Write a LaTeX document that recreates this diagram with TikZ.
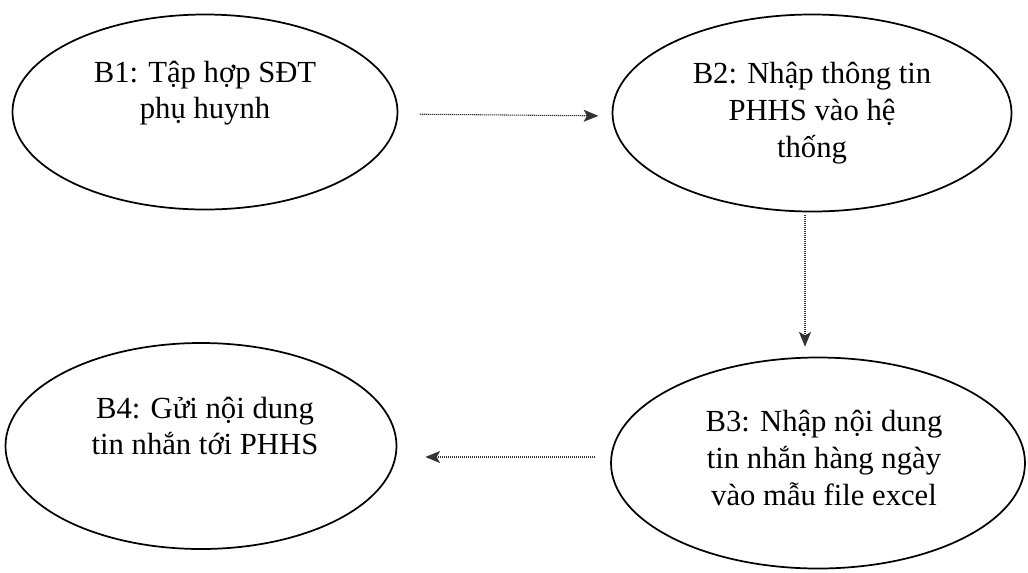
\documentclass[tikz,border=0pt]{standalone}
\usepackage{fontspec}
\setmainfont{Liberation Serif}
\usepackage{tikz}
\usetikzlibrary{shapes,arrows.meta,positioning}

\tikzset{
  stepoval/.style={draw, ellipse, line width=1.3pt, inner sep=0pt},
  steptext/.style={align=center, inner sep=0.75pt, font=\fontsize{23}{27.5}\selectfont},
  flowarrow/.style={draw=black!80, line width=0.8pt, dash pattern={on 0.9pt off 0.6pt},
    -{Stealth[length=11pt,width=9pt,inset=2.5pt]}}
}

\begin{document}
\begin{tikzpicture}[x=0.75pt,y=0.75pt,yscale=-1,xscale=1]
\useasboundingbox (0,0) rectangle (1028,572);

%Shape: Ellipse [id:b1]
\node [stepoval, minimum width=385*0.75pt, minimum height=195*0.75pt] (b1) at (205,112) {};
%Shape: Ellipse [id:b2]
\node [stepoval, minimum width=399*0.75pt, minimum height=197*0.75pt] (b2) at (812,113) {};
%Shape: Ellipse [id:b3]
\node [stepoval, minimum width=414*0.75pt, minimum height=211*0.75pt] (b3) at (818,463) {};
%Shape: Ellipse [id:b4]
\node [stepoval, minimum width=391*0.75pt, minimum height=206*0.75pt] (b4) at (201,446) {};

% Text Node
\node [steptext] (t1) at (205,93) {B1: Tập hợp SĐT\\phụ huynh};
% Text Node
\node [steptext] (t2) at (812,113) {B2: Nhập thông tin\\PHHS vào hệ\\thống};
% Text Node
\node [steptext] (t3) at (824,458) {B3: Nhập nội dung\\tin nhắn hàng ngày\\vào mẫu file excel};
% Text Node
\node [steptext] (t4) at (205,426) {B4: Gửi nội dung\\tin nhắn tới PHHS};

%Straight Lines [id:a12]
\draw [flowarrow, shorten <=16pt, shorten >=10pt] ([yshift=2*0.75pt]b1.east) -- ([yshift=3*0.75pt]b2.west);
%Straight Lines [id:a23]
\draw [flowarrow, shorten <=2pt, shorten >=7.5pt] ([xshift=-7*0.75pt]b2.south) -- ([xshift=-7*0.75pt]b2.south |- b3.north);
%Straight Lines [id:a34]
\draw [flowarrow, shorten <=11pt, shorten >=21pt] ([yshift=-6*0.75pt]b3.west) -- ([yshift=-6*0.75pt]b3.west -| b4.east);

\end{tikzpicture}
\end{document}
